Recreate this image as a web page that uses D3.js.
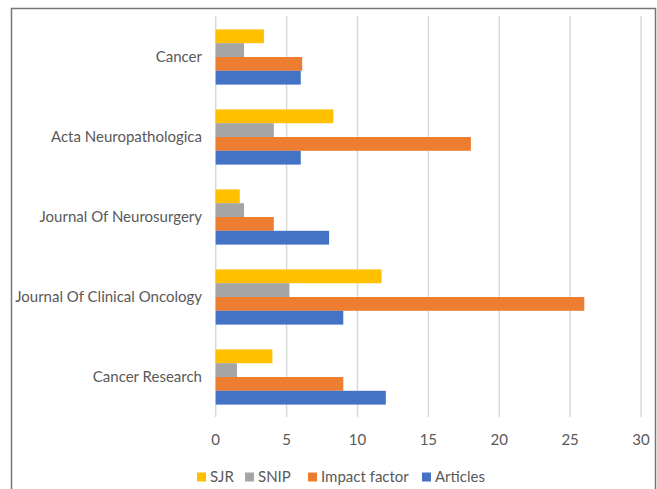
<!DOCTYPE html>
<meta charset="utf-8">
<style>
body { margin: 0; background: #fff; }
text { font-family: Lato, "Open Sans", sans-serif; fill: #595959; }
</style>
<body>
<script src="https://d3js.org/d3.v7.min.js"></script>
<script>
var journals = ["Cancer", "Acta Neuropathologica", "Journal Of Neurosurgery", "Journal Of Clinical Oncology", "Cancer Research"];
var series = ["SJR", "SNIP", "Impact factor", "Articles"];
var colors = ["#FFC000", "#A5A5A5", "#ED7D31", "#4472C4"];
var sjr = [3.4, 8.3, 1.7, 11.7, 4.0];
var snip = [2.0, 4.1, 2.0, 5.2, 1.5];
var impactFactor = [6.1, 18.0, 4.1, 26.0, 9.0];
var articles = [6, 6, 8, 9, 12];
var xTicks = [0, 5, 10, 15, 20, 25, 30];

var values = [sjr, snip, impactFactor, articles];

var width = 657, height = 489;
var svg = d3.select("body").append("svg")
    .attr("width", width)
    .attr("height", height);

// outer frame
svg.append("rect")
    .attr("x", 11.5).attr("y", 8.5)
    .attr("width", 644).attr("height", 490)
    .attr("fill", "none")
    .attr("stroke", "#767676")
    .attr("stroke-width", 1.5);

var x = d3.scaleLinear().domain([0, 30]).range([215.7, 641]);
var y = d3.scaleBand().domain(journals).range([17, 417]).paddingInner(0.31).paddingOuter(0.155);
var ySub = d3.scaleBand().domain(series).range([0, y.bandwidth()]);

// gridlines
svg.append("g").selectAll("line")
    .data(xTicks)
    .enter().append("line")
    .attr("x1", function(d) { return x(d); })
    .attr("x2", function(d) { return x(d); })
    .attr("y1", 16)
    .attr("y2", 417)
    .attr("stroke", "#D9D9D9")
    .attr("stroke-width", 1.5);

// bars
series.forEach(function(s, i) {
    svg.append("g").selectAll("rect")
        .data(journals)
        .enter().append("rect")
        .attr("x", x(0))
        .attr("y", function(d) { return y(d) + ySub(s); })
        .attr("width", function(d, j) { return x(values[i][j]) - x(0); })
        .attr("height", ySub.bandwidth())
        .attr("fill", colors[i]);
});

// category labels
svg.append("g").selectAll("text")
    .data(journals)
    .enter().append("text")
    .attr("x", 202)
    .attr("y", function(d) { return y(d) + y.bandwidth() / 2; })
    .attr("dy", "0.35em")
    .attr("text-anchor", "end")
    .style("font-size", "15px")
    .text(function(d) { return d; });

// x tick labels
svg.append("g").selectAll("text")
    .data(xTicks)
    .enter().append("text")
    .attr("x", function(d) { return x(d); })
    .attr("y", 440)
    .attr("dy", "0.35em")
    .attr("text-anchor", "middle")
    .style("font-size", "15px")
    .text(function(d) { return d; });

// legend
var legendX = [197, 245, 308, 422];
var legend = svg.append("g").selectAll("g")
    .data(series)
    .enter().append("g")
    .attr("transform", function(d, i) { return "translate(" + legendX[i] + ",477)"; });
legend.append("rect")
    .attr("x", 0).attr("y", -4.5)
    .attr("width", 9).attr("height", 9)
    .attr("fill", function(d, i) { return colors[i]; });
legend.append("text")
    .attr("x", 13)
    .attr("dy", "0.35em")
    .style("font-size", "15px")
    .text(function(d) { return d; });
</script>
</body>
